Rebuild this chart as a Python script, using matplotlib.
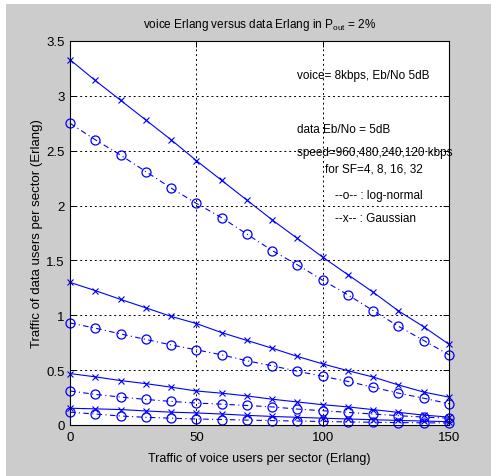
import matplotlib
matplotlib.use("Agg")
import matplotlib.pyplot as plt
import matplotlib.patches as patches

plt.rcParams['font.family'] = ['Liberation Sans', 'DejaVu Sans']
plt.rcParams['mathtext.fontset'] = 'custom'
plt.rcParams['mathtext.rm'] = 'Liberation Sans'

# voice traffic (Erlang)
voice = [0, 10, 20, 30, 40, 50, 60, 70, 80, 90, 100, 110, 120, 130, 140, 150]

# data traffic, Gaussian model, SF = 4, 8, 16, 32
gauss_sf4 = [3.33, 3.14, 2.96, 2.78, 2.60, 2.41, 2.23, 2.05, 1.87, 1.70, 1.53, 1.37, 1.21, 1.04, 0.895, 0.735]
gauss_sf8 = [1.30, 1.225, 1.145, 1.068, 0.99, 0.925, 0.842, 0.771, 0.70, 0.625, 0.557, 0.495, 0.437, 0.365, 0.30, 0.254]
gauss_sf16 = [0.469, 0.439, 0.405, 0.377, 0.345, 0.31, 0.29, 0.265, 0.235, 0.21, 0.185, 0.165, 0.14, 0.115, 0.09, 0.072]
gauss_sf32 = [0.153, 0.147, 0.141, 0.128, 0.117, 0.11, 0.10, 0.088, 0.078, 0.07, 0.062, 0.055, 0.048, 0.042, 0.036, 0.03]

# data traffic, log-normal model
logn_sf4 = [2.75, 2.60, 2.46, 2.31, 2.16, 2.02, 1.89, 1.74, 1.59, 1.46, 1.32, 1.186, 1.042, 0.90, 0.77, 0.64]
logn_sf8 = [0.93, 0.883, 0.83, 0.78, 0.73, 0.685, 0.64, 0.585, 0.54, 0.49, 0.444, 0.397, 0.344, 0.29, 0.244, 0.194]
logn_sf16 = [0.31, 0.279, 0.255, 0.233, 0.215, 0.20, 0.19, 0.178, 0.165, 0.145, 0.13, 0.115, 0.10, 0.085, 0.072, 0.062]
logn_sf32 = [0.117, 0.10, 0.082, 0.07, 0.062, 0.055, 0.05, 0.045, 0.04, 0.036, 0.032, 0.028, 0.025, 0.022, 0.02, 0.018]

BLUE = '#0000ff'
GRAY = '#cccccc'

fig = plt.figure(figsize=(4.91, 4.77), dpi=100, facecolor='white')
# matlab style gray figure area, thin white strip on top/left
fig.patches.append(patches.Rectangle((6 / 491, 0), 1, 1 - 5 / 477, transform=fig.transFigure,
                                     facecolor=GRAY, edgecolor='none', zorder=-10))

ax = fig.add_axes([70 / 491, 1 - 426 / 477, 379 / 491, 384 / 477])
ax.set_facecolor('white')

for g in [gauss_sf4, gauss_sf8, gauss_sf16, gauss_sf32]:
    ax.plot(voice, g, '-', color=BLUE, lw=0.8, marker='x', ms=4.5, mew=0.8, clip_on=False)
for l in [logn_sf4, logn_sf8, logn_sf16, logn_sf32]:
    ax.plot(voice, l, '-.', color=BLUE, lw=0.8, marker='o', ms=6.5, mew=0.9,
            mfc='none', dashes=(5, 3, 1, 3), clip_on=False)

ax.set_xlim(0, 150)
ax.set_ylim(0, 3.5)
ax.set_xticks([0, 50, 100, 150])
ax.set_yticks([0, 0.5, 1, 1.5, 2, 2.5, 3, 3.5])
ax.set_yticklabels(['0', '0.5', '1', '1.5', '2', '2.5', '3', '3.5'])
ax.grid(True, color='black', linestyle=(0, (2, 3)), linewidth=0.7)
ax.tick_params(direction='in', top=True, right=True, length=4, width=0.7, labelsize=9.5, pad=4)
for s in ax.spines.values():
    s.set_linewidth(0.8)

ax.set_title('voice Erlang versus data Erlang in P$_{\\rm out}$ = 2%', fontsize=8.5, pad=10)
ax.set_xlabel('Traffic of voice users per sector (Erlang)', fontsize=9, labelpad=7)
ax.set_ylabel('Traffic of data users per sector (Erlang)', fontsize=9.5, labelpad=2)

tk = dict(fontsize=8.5, va='center', ha='left')
ax.text(90, 3.19, 'voice= 8kbps, Eb/No 5dB', **tk)
ax.text(90, 2.70, 'data Eb/No = 5dB', **tk)
ax.text(90, 2.49, 'speed=960,480,240,120 kbps', **tk)
ax.text(101, 2.34, 'for SF=4, 8, 16, 32', **tk)
ax.text(105, 2.10, '--o-- : log-normal', **tk)
ax.text(105, 1.89, '--x-- : Gaussian', **tk)

fig.savefig('out.png', dpi=100, facecolor=fig.get_facecolor())
